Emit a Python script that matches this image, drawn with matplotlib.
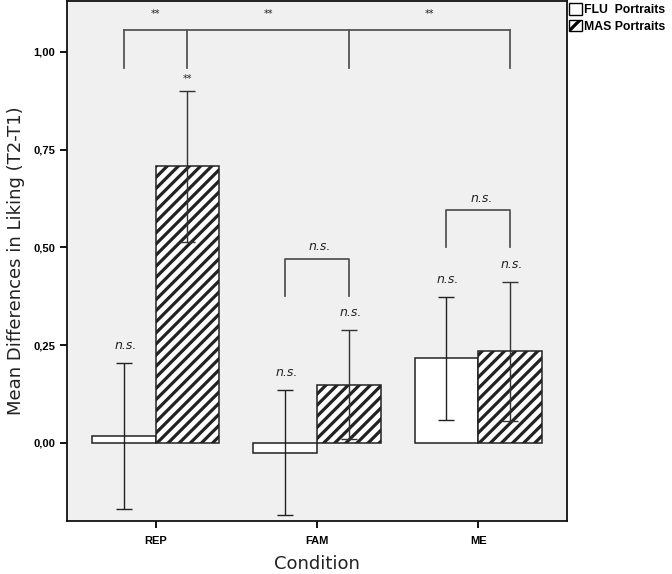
import numpy as np
import matplotlib.pyplot as plt
from matplotlib.patches import Patch

# Datos
condiciones = ['REP', 'FAM', 'ME']
flu_media = [0.017, -0.025, 0.216]
mas_media = [0.707, 0.149, 0.234]
flu_err = [0.187, 0.159, 0.157]
mas_err = [0.193, 0.140, 0.178]
flu_sig = ['n.s.', 'n.s.', 'n.s.']
mas_sig = ['**', 'n.s.', 'n.s.']
yticks = [0.0, 0.25, 0.5, 0.75, 1.0]
ytick_labels = ['0,00', '0,25', '0,50', '0,75', '1,00']

plt.rcParams['hatch.linewidth'] = 2.3
plt.rcParams['hatch.color'] = 'black'

fig = plt.figure(figsize=(6.72, 5.74), dpi=100)
ax = fig.add_axes([0.0997, 0.0923, 0.744, 0.9058])
ax.set_facecolor('#f0f0f0')

x = np.arange(len(condiciones))
w = 0.394
x_flu = x - w / 2
x_mas = x + w / 2

ax.bar(x_flu, flu_media, w, color='white', edgecolor='#222222', linewidth=1.1, zorder=2)
ax.bar(x_mas, mas_media, w, color='white', edgecolor='#222222', linewidth=1.1,
       hatch='///', zorder=2)

ax.errorbar(x_flu, flu_media, yerr=flu_err, fmt='none', ecolor='#222222',
            elinewidth=1.0, capsize=6, capthick=1.0, zorder=3)
ax.errorbar(x_mas, mas_media, yerr=mas_err, fmt='none', ecolor='#333333',
            elinewidth=1.0, capsize=6, capthick=1.0, zorder=3)

# etiquetas sobre cada barra
for xi, m, e, s in zip(x_flu, flu_media, flu_err, flu_sig):
    ax.text(xi + 0.01, m + e + 0.045, s, ha='center', va='center',
            fontsize=9, style='italic', color='#222222')
for xi, m, e, s in zip(x_mas, mas_media, mas_err, mas_sig):
    if s == '**':
        ax.text(xi, m + e + 0.03, s, ha='center', va='center', fontsize=7, color='#222222')
    else:
        ax.text(xi + 0.01, m + e + 0.045, s, ha='center', va='center',
                fontsize=9, style='italic', color='#222222')

lc = '#555555'
# corchete grande entre condiciones
top, leg = 1.055, 0.960
xs_leg = [x_flu[0], x_mas[0], x_mas[1], x_mas[2]]
ax.plot([xs_leg[0], xs_leg[-1]], [top, top], color=lc, lw=1.3, zorder=1)
for xl in xs_leg:
    ax.plot([xl, xl], [leg, top], color=lc, lw=1.3, zorder=1)
for xa, xb in [(xs_leg[0], xs_leg[1]), (xs_leg[1], xs_leg[2]), (xs_leg[2], xs_leg[3])]:
    ax.text((xa + xb) / 2, 1.097, '**', ha='center', va='center', fontsize=7, color='#222222')

# corchetes dentro de FAM y ME
for i, (b_top, b_leg) in zip([1, 2], [(0.471, 0.375), (0.595, 0.50)]):
    ax.plot([x_flu[i], x_flu[i], x_mas[i], x_mas[i]], [b_leg, b_top, b_top, b_leg],
            color=lc, lw=1.3, zorder=1)
    ax.text(x[i] + 0.02, b_top + 0.03, 'n.s.', ha='center', va='center',
            fontsize=9, style='italic', color='#222222')

ax.set_xlim(-0.55, 2.55)
ax.set_ylim(-0.2, 1.13)
ax.set_xticks(x)
ax.set_xticklabels(condiciones, fontsize=8, fontweight='bold', family='Liberation Sans')
ax.set_yticks(yticks)
ax.set_yticklabels(ytick_labels, fontsize=8, fontweight='bold', family='Liberation Sans')
ax.tick_params(axis='both', length=5, width=1.3, color='black', direction='out')
ax.tick_params(axis='x', pad=6)
for sp in ax.spines.values():
    sp.set_linewidth(1.3)
    sp.set_color('#111111')

ax.set_xlabel('Condition', fontsize=13, color='#222222', labelpad=6)
ax.set_ylabel('Mean Differences in Liking (T2-T1)', fontsize=13, color='#222222', labelpad=6)

handles = [Patch(facecolor='white', edgecolor='black', linewidth=1.0),
           Patch(facecolor='white', edgecolor='black', linewidth=1.0, hatch='//')]
ax.legend(handles, ['FLU  Portraits', 'MAS Portraits'], loc='upper left',
          bbox_to_anchor=(1.0, 1.0), frameon=False, handlelength=1.1, handleheight=1.1,
          handletextpad=0.15, labelspacing=0.3, borderaxespad=0.05, borderpad=0.1,
          prop={'family': 'Liberation Sans', 'weight': 'bold', 'size': 8.8})

fig.savefig('out.png', dpi=100)
